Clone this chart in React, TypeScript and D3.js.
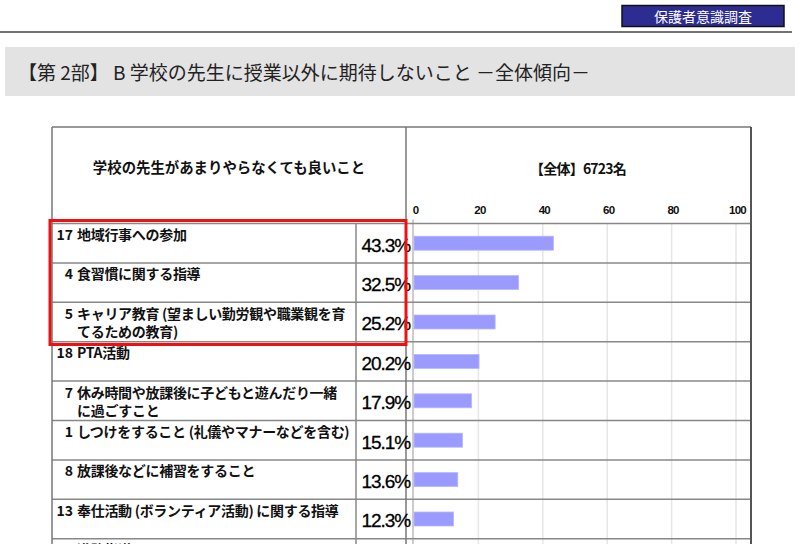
import React from "react";
import * as d3 from "d3";

const ids = ["17", "4", "5", "18", "7", "1", "8", "13", "9"];
const labels: string[][] = [
  ["地域行事への参加"],
  ["食習慣に関する指導"],
  ["キャリア教育 (望ましい勤労観や職業観を育", "てるための教育)"],
  ["PTA活動"],
  ["休み時間や放課後に子どもと遊んだり一緒", "に過ごすこと"],
  ["しつけをすること (礼儀やマナーなどを含む)"],
  ["放課後などに補習をすること"],
  ["奉仕活動 (ボランティア活動) に関する指導"],
  ["進路指導"],
];
const values = [43.3, 32.5, 25.2, 20.2, 17.9, 15.1, 13.6, 12.3, 11.0];
const ticks = [0, 20, 40, 60, 80, 100];

const JP = "'Noto Sans CJK JP', 'Noto Sans', sans-serif";
const LAT = "'Liberation Sans', Arial, sans-serif";

export default function App() {
  const W = 800, H = 544;
  const tableL = 52, tableR = 751, tableT = 127;
  const divX = 406, pctX = 356;
  const headB = 223.5;
  const rowH = 39.4;
  const x = d3.scaleLinear().domain([0, 100]).range([414, 736]);
  const y = d3.scaleBand<string>().domain(ids).range([headB, headB + rowH * ids.length]);
  const barH = 14;

  return (
    <svg width={W} height={H} style={{ position: "absolute", left: 0, top: 0, background: "#fff" }}>
      {/* top badge */}
      <line x1={0} x2={792} y1={32} y2={32} stroke="#444" strokeWidth={1.5} />
      <rect x={622} y={5.5} width={162} height={21} fill="#2c2c92" stroke="#111" strokeWidth={1.5} />
      <text x={703} y={21.5} textAnchor="middle" fill="#fff" fontFamily={JP} fontSize={14}>保護者意識調査</text>

      {/* title band */}
      <rect x={5} y={47} width={790} height={49} fill="#e3e3e3" />
      <text x={18} y={80} fontFamily={JP} fontSize={19} fill="#222">【第 2部】 B  学校の先生に授業以外に期待しないこと －全体傾向－</text>

      {/* header texts */}
      <text x={229} y={173} textAnchor="middle" fontFamily={JP} fontSize={14.4} fontWeight={700} fill="#111">学校の先生があまりやらなくても良いこと</text>
      <text x={578} y={174} textAnchor="middle" fontFamily={JP} fontSize={14} fontWeight={700} fill="#111" letterSpacing={-0.8}>【全体】6723名</text>
      {ticks.map(t => (
        <text key={t} x={x(t) + 1.5} y={214} textAnchor="middle" fontFamily={LAT} fontSize={11.5} fontWeight={700} fill="#111" letterSpacing={-0.8}>{t}</text>
      ))}

      {/* gridlines */}
      {ticks.slice(1).map(t => (
        <line key={t} x1={x(t)} x2={x(t)} y1={headB} y2={H} stroke="#e6e6e6" strokeWidth={1.5} />
      ))}
      <line x1={x(0) - 1} x2={x(0) - 1} y1={headB - 4} y2={H} stroke="#999" strokeWidth={1} />

      {/* bars */}
      {ids.map((id, i) => (
        <rect key={id} x={x(0)} y={(y(id) as number) + (rowH - barH) / 2} width={x(values[i]) - x(0)} height={barH}
          fill="#9a9aff" stroke="#b8b8ff" strokeWidth={0.8} />
      ))}

      {/* row lines */}
      {ids.map(id => (
        <line key={id} x1={tableL} x2={tableR} y1={y(id) as number} y2={y(id) as number} stroke="#888" strokeWidth={1.5} />
      ))}

      {/* table borders */}
      <line x1={tableL} x2={tableR} y1={tableT} y2={tableT} stroke="#777" strokeWidth={1.5} />
      <line x1={tableL} x2={tableL} y1={tableT} y2={H} stroke="#777" strokeWidth={1.5} />
      <line x1={tableR} x2={tableR} y1={tableT} y2={H} stroke="#555" strokeWidth={2} />
      <line x1={divX} x2={divX} y1={tableT} y2={H} stroke="#777" strokeWidth={1.5} />
      <line x1={pctX} x2={pctX} y1={headB} y2={H} stroke="#888" strokeWidth={1.5} />

      {/* labels */}
      {ids.map((id, i) => {
        const top = y(id) as number;
        return (
          <g key={id}>
            <text x={73} y={top + 16.5} textAnchor="end" fontFamily={JP} fontSize={14} fontWeight={600} fill="#111">{id}</text>
            {labels[i].map((ln, j) => (
              <text key={j} x={77} y={top + 16.5 + j * 18.5} fontFamily={JP} fontSize={14} fontWeight={600} fill="#111" letterSpacing={-0.3}>{ln}</text>
            ))}
            <text x={410} y={top + 28} textAnchor="end" fontFamily={LAT} fontSize={19} fill="#000" letterSpacing={-1.1} stroke="#000" strokeWidth={0.3}>{values[i].toFixed(1)}%</text>
          </g>
        );
      })}

      {/* highlight */}
      <rect x={50} y={220.5} width={356} height={124} fill="none" stroke="#ee1111" strokeWidth={3} />
    </svg>
  );
}
